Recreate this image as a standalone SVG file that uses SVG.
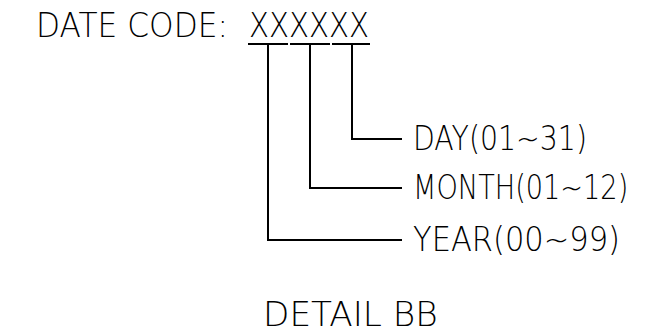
<svg xmlns="http://www.w3.org/2000/svg" width="649" height="335" viewBox="0 0 649 335">
<style>
.t{font-family:"DejaVu Sans","Liberation Sans",sans-serif;font-weight:200;font-size:34px;fill:#000}
.c{stroke:#000;stroke-width:2;fill:none}
</style>
<rect width="649" height="335" fill="#fff"/>
<g id="title">
<text class="t" transform="translate(36,37) scale(0.75,1)"><tspan x="0" textLength="256" lengthAdjust="spacingAndGlyphs">DATE CODE:</tspan><tspan x="284" textLength="160" lengthAdjust="spacingAndGlyphs">XXXXXX</tspan></text>
</g>
<g id="day"><text class="t" transform="translate(413,150) scale(0.75,1)" x="0" y="0" textLength="232" lengthAdjust="spacingAndGlyphs">DAY(01~31)</text></g>
<g id="month"><text class="t" transform="translate(413,199) scale(0.75,1)" x="0" y="0" textLength="287" lengthAdjust="spacingAndGlyphs">MONTH(01~12)</text></g>
<g id="year"><text class="t" transform="translate(413,251) scale(0.75,1)" x="0" y="0" textLength="276" lengthAdjust="spacingAndGlyphs">YEAR(00~99)</text></g>
<g id="detail"><text class="t" transform="translate(263,326) scale(0.75,1)" x="0" y="0" textLength="233" lengthAdjust="spacingAndGlyphs">DETAIL BB</text></g>
<g id="connectors">
<path class="c" d="M248 44H288M290 44H330M332 44H370"/>
<path class="c" d="M352 44V139H402"/>
<path class="c" d="M310 44V188H402"/>
<path class="c" d="M268 44V240H402"/>
</g>
</svg>
